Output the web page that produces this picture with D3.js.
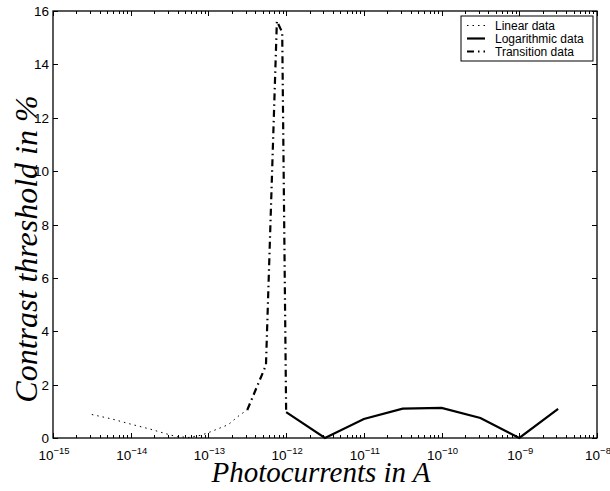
<!DOCTYPE html>
<html lang="en">
<head>
<meta charset="utf-8">
<script src="https://d3js.org/d3.v7.min.js"></script>
<style>
    body { margin: 0; background: #fff; }
    .tick-label { font: 13.5px "Liberation Sans", Arial, sans-serif; fill: #000; }
    .axis-title { font: italic 29px "Liberation Serif", "Times New Roman", serif; fill: #000; }
    .legend-text { font: 12px "Liberation Sans", Arial, sans-serif; fill: #000; }
</style>
</head>
<body>
<div id="chart"></div>
<script>
    // data (x in amperes, y in %)
    var linearX = [3.16e-15, 5.6e-15, 1e-14, 1.8e-14, 3.16e-14, 4e-14, 5.6e-14, 7.9e-14, 1e-13, 1.8e-13, 2.5e-13, 3.16e-13];
    var linearY = [0.88, 0.72, 0.52, 0.33, 0.12, 0.05, 0.02, 0.1, 0.2, 0.5, 0.85, 1.05];

    var logX = [1e-12, 3.16e-12, 1e-11, 3.16e-11, 1e-10, 3.16e-10, 1e-9, 3.16e-9];
    var logY = [0.97, 0, 0.71, 1.1, 1.13, 0.75, 0, 1.09];

    var transX = [3.16e-13, 5.5e-13, 7.6e-13, 8.9e-13, 1e-12];
    var transY = [1.05, 2.73, 15.62, 15.2, 0.97];

    var yTicks = [0, 2, 4, 6, 8, 10, 12, 14, 16];
    var xDecades = [-15, -14, -13, -12, -11, -10, -9, -8];

    var legendNames = ["Linear data", "Logarithmic data", "Transition data"];

    var width = 610, height = 491;
    var plot = { left: 53, right: 597, top: 11, bottom: 438 };

    var svg = d3.select("#chart").append("svg")
        .attr("width", width)
        .attr("height", height);

    var x = d3.scaleLog()
        .domain([1e-15, 1e-8])
        .range([plot.left, plot.right]);
    var y = d3.scaleLinear()
        .domain([0, 16])
        .range([plot.bottom, plot.top]);

    // ticks (inside, on all four sides like matlab)
    var ticks = svg.append("g").attr("stroke", "#000").attr("stroke-width", 1);
    x.ticks().forEach(function (t) {
        var major = Math.abs(Math.log10(t) - Math.round(Math.log10(t))) < 1e-6;
        var len = major ? 5 : 3;
        var px = Math.round(x(t)) + 0.5;
        ticks.append("line").attr("x1", px).attr("x2", px)
            .attr("y1", plot.bottom).attr("y2", plot.bottom - len);
        ticks.append("line").attr("x1", px).attr("x2", px)
            .attr("y1", plot.top).attr("y2", plot.top + len);
    });
    yTicks.forEach(function (t) {
        var py = Math.round(y(t)) + 0.5;
        ticks.append("line").attr("y1", py).attr("y2", py)
            .attr("x1", plot.left).attr("x2", plot.left + 5);
        ticks.append("line").attr("y1", py).attr("y2", py)
            .attr("x1", plot.right).attr("x2", plot.right - 5);
    });

    // y tick labels
    svg.selectAll(".ylab")
        .data(yTicks)
        .enter().append("text")
        .attr("class", "tick-label")
        .attr("x", plot.left - 4)
        .attr("y", function (d) { return y(d) + 5; })
        .attr("text-anchor", "end")
        .text(function (d) { return d; });

    // x tick labels: 10^n
    var xl = svg.selectAll(".xlab")
        .data(xDecades)
        .enter().append("text")
        .attr("class", "tick-label")
        .attr("x", function (d) { return x(Math.pow(10, d)) + 1; })
        .attr("y", plot.bottom + 22)
        .attr("text-anchor", "middle");
    xl.append("tspan").text("10");
    xl.append("tspan")
        .attr("dy", -6)
        .style("font-size", "9.5px")
        .text(function (d) { return "\u2212" + Math.abs(d); });

    // lines
    var line = d3.line()
        .x(function (d) { return x(d[0]); })
        .y(function (d) { return y(d[1]); });

    svg.append("path")
        .datum(d3.zip(linearX, linearY))
        .attr("fill", "none")
        .attr("stroke", "#000")
        .attr("stroke-width", 1)
        .attr("stroke-dasharray", "1.5,4")
        .attr("d", line);

    svg.append("path")
        .datum(d3.zip(transX, transY))
        .attr("fill", "none")
        .attr("stroke", "#000")
        .attr("stroke-width", 2.2)
        .attr("stroke-dasharray", "7,4,1.5,4")
        .attr("d", line);

    svg.append("path")
        .datum(d3.zip(logX, logY))
        .attr("fill", "none")
        .attr("stroke", "#000")
        .attr("stroke-width", 2.2)
        .attr("stroke-linejoin", "miter")
        .attr("d", line);

    // frame
    svg.append("rect")
        .attr("x", plot.left).attr("y", plot.top)
        .attr("width", plot.right - plot.left)
        .attr("height", plot.bottom - plot.top)
        .attr("fill", "none")
        .attr("stroke", "#000")
        .attr("stroke-width", 1.3);

    // legend
    var lg = svg.append("g").attr("transform", "translate(461,16)");
    lg.append("rect")
        .attr("width", 132).attr("height", 45)
        .attr("fill", "#fff").attr("stroke", "#000").attr("stroke-width", 1);
    var styles = [
        { w: 1, dash: "1.5,4" },
        { w: 2.2, dash: null },
        { w: 2.2, dash: "7,4,1.5,4" }
    ];
    legendNames.forEach(function (name, i) {
        var ly = 9.5 + i * 13;
        lg.append("line")
            .attr("x1", 6).attr("x2", 24)
            .attr("y1", ly).attr("y2", ly)
            .attr("stroke", "#000")
            .attr("stroke-width", styles[i].w)
            .attr("stroke-dasharray", styles[i].dash);
        lg.append("text")
            .attr("class", "legend-text")
            .attr("x", 34).attr("y", ly + 4.5)
            .text(name);
    });

    // axis titles
    svg.append("text")
        .attr("class", "axis-title")
        .attr("x", 321)
        .attr("y", 482)
        .attr("text-anchor", "middle")
        .text("Photocurrents in A");

    svg.append("text")
        .attr("class", "axis-title")
        .style("font-size", "32px")
        .attr("transform", "translate(37,249) rotate(-90)")
        .attr("text-anchor", "middle")
        .text("Contrast threshold in %");
</script>
</body>
</html>
